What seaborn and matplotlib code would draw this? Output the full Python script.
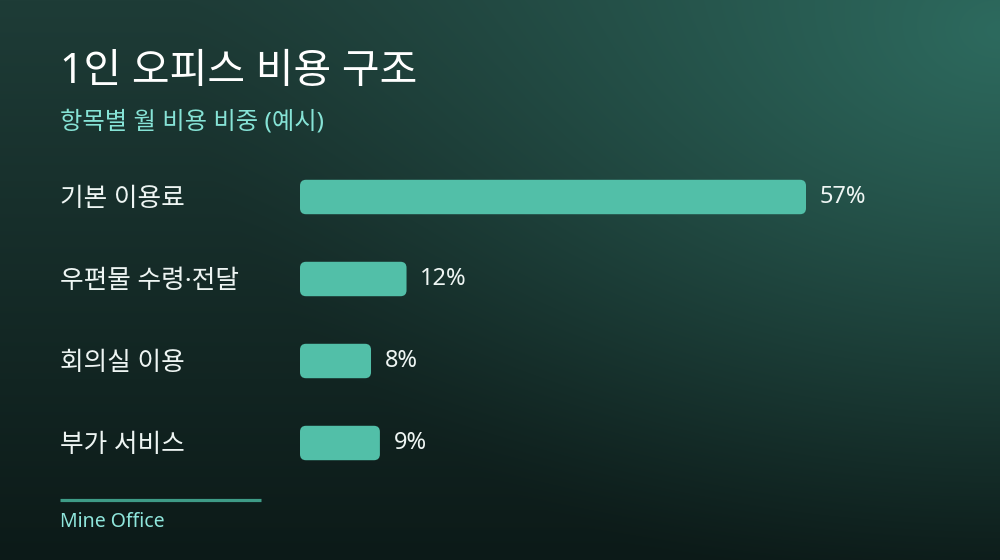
import numpy as np
import pandas as pd
import matplotlib
matplotlib.use("Agg")
import matplotlib.pyplot as plt
from matplotlib.patches import FancyBboxPatch
from matplotlib.colors import to_rgb
import seaborn as sns

# ---- data ----
categories = ["기본 이용료", "우편물 수령·전달", "회의실 이용", "부가 서비스"]
shares = [57, 12, 8, 9]
value_labels = ["57%", "12%", "8%", "9%"]
title = "1인 오피스 비용 구조"
subtitle = "항목별 월 비용 비중 (예시)"
footer = "Mine Office"

sns.set_theme(style="white")
plt.rcParams["font.family"] = ["Noto Sans", "Noto Sans CJK KR", "DejaVu Sans"]

W, H = 1000, 560
fig = plt.figure(figsize=(W / 100, H / 100), dpi=100)

# ---- background gradient ----
bg_ax = fig.add_axes([0, 0, 1, 1], zorder=0)
yy, xx = np.mgrid[0:H, 0:W]
top = np.array(to_rgb("#1e3c37"))
bot = np.array(to_rgb("#0c1a18"))
t = (yy / (H - 1))[..., None]
base = top * (1 - t) + bot * t
glow_c = np.array(to_rgb("#2d6a5e"))
d = np.sqrt(((xx - 1000) / 1.2) ** 2 + ((yy - 30) / 0.85) ** 2)
a = np.clip(1 - d / 680, 0, 1) ** 1.25
img = base * (1 - a[..., None]) + glow_c * a[..., None]
bg_ax.imshow(img, aspect="auto", extent=[0, W, H, 0])
bg_ax.set_axis_off()

# ---- bars ----
px_per_unit = 506 / 57
ax_left, ax_w = 300 / W, 640 / W
row_h = 82
ax_top_px = 197 - row_h / 2
ax_h_px = row_h * 4
ax = fig.add_axes([ax_left, 1 - (ax_top_px + ax_h_px) / H, ax_w, ax_h_px / H], zorder=1)
ax.patch.set_alpha(0)

df = pd.DataFrame({"category": categories, "share": shares})
bar_color = "#52bfa8"
sns.barplot(data=df, x="share", y="category", orient="h", color=bar_color,
            width=0.42, ax=ax, saturation=1)
ax.set_xlim(0, 640 / px_per_unit)
ax.set_ylim(3.5, -0.5)

# value labels
ax.bar_label(ax.containers[0], labels=value_labels, padding=10,
             color="#eef5f3", fontsize=17)

# rounded bars
r_px = 6
x_per_px = 1 / px_per_unit
y_per_px = 1 / row_h
for p in list(ax.patches):
    x0, y0 = p.get_x(), p.get_y()
    w, h = p.get_width(), p.get_height()
    p.set_visible(False)
    fb = FancyBboxPatch((x0, y0), w, h,
                        boxstyle=f"round,pad=0,rounding_size={r_px * x_per_px}",
                        mutation_aspect=y_per_px / x_per_px,
                        facecolor=bar_color, edgecolor="none", zorder=2)
    ax.add_patch(fb)

# axes styling
sns.despine(ax=ax, left=True, bottom=True)
ax.set_xlabel("")
ax.set_ylabel("")
ax.set_xticks([])
ax.tick_params(axis="y", length=0, pad=(300 - 60) * 72 / 100, labelsize=18.5,
               labelcolor="#eef5f3")
for lab in ax.get_yticklabels():
    lab.set_horizontalalignment("left")

# ---- titles ----
fig.text(60 / W, 1 - 72 / H, title, fontsize=29.5, color="#ffffff",
         ha="left", va="center", zorder=3)
fig.text(60 / W, 1 - 123 / H, subtitle, fontsize=17.5, color="#86e3d6",
         ha="left", va="center", zorder=3)

# footer line + text
bg_ax.plot([60, 261], [500, 500], color="#3e9c87", lw=2.3, solid_capstyle="butt")
bg_ax.set_xlim(0, W)
bg_ax.set_ylim(H, 0)
fig.text(60 / W, 1 - 522 / H, footer, fontsize=14, color="#8fe6dc",
         ha="left", va="center", zorder=3)

fig.savefig("out.png", dpi=100)
